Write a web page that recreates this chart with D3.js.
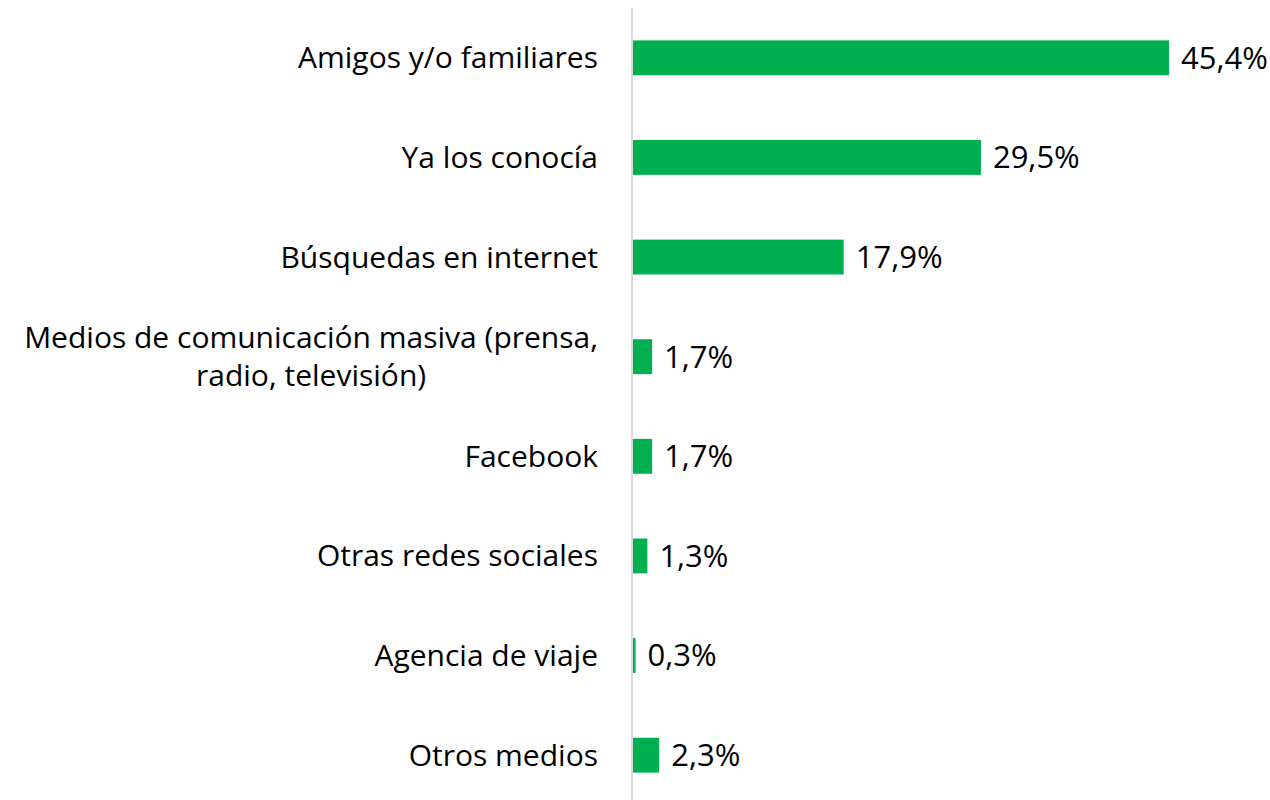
<!DOCTYPE html>
<html lang="es">
<head>
<meta charset="utf-8">
<title>Medios</title>
<script src="https://cdn.jsdelivr.net/npm/d3@7"></script>
<style>
  body { margin: 0; background: #fff; }
  text { font-family: "Open Sans", sans-serif; fill: #000; }
</style>
</head>
<body>
<svg id="chart" width="1270" height="800"></svg>
<script>
// categorias (cada etiqueta puede tener varias lineas)
var categories = [
  ["Amigos y/o familiares"],
  ["Ya los conocía"],
  ["Búsquedas en internet"],
  ["Medios de comunicación masiva (prensa,", "radio, televisión)"],
  ["Facebook"],
  ["Otras redes sociales"],
  ["Agencia de viaje"],
  ["Otros medios"]
];
var values = [45.4, 29.5, 17.9, 1.7, 1.7, 1.3, 0.3, 2.3];
var valueLabels = ["45,4%", "29,5%", "17,9%", "1,7%", "1,7%", "1,3%", "0,3%", "2,3%"];

var svg = d3.select("#chart"),
    x0 = 632,
    fontSize = 30,
    valSize = 31;

var xScale = d3.scaleLinear().domain([0, 45.4]).range([x0, 1169]);
var yScale = d3.scaleBand()
    .domain(d3.range(categories.length))
    .range([8, 805])
    .paddingInner(0.65)
    .paddingOuter(0.325);

/**bars*/
svg.selectAll(".bar")
  .data(values)
  .enter().append("rect")
  .attr("class", "bar")
  .attr("x", x0)
  .attr("y", function(_, i) { return yScale(i); })
  .attr("width", function(d) { return xScale(d) - x0; })
  .attr("height", yScale.bandwidth())
  .attr("fill", "#00b050");

/**vertical axis line*/
svg.append("line")
  .attr("x1", x0).attr("x2", x0)
  .attr("y1", 8).attr("y2", 800)
  .attr("stroke", "#d9d9d9")
  .attr("stroke-width", 2);

/**category labels, wrapped ones are centered on their block*/
var lineH = 38;
categories.forEach(function(lines, i) {
  var cy = yScale(i) + yScale.bandwidth() / 2;
  var t = svg.append("text")
    .attr("font-size", fontSize)
    .attr("text-anchor", lines.length > 1 ? "middle" : "end");
  lines.forEach(function(l, j) {
    t.append("tspan")
      .attr("x", 0)
      .attr("y", cy + (j - (lines.length - 1) / 2) * lineH)
      .attr("dy", "0.35em")
      .text(l);
  });
  if (lines.length > 1) {
    var w = t.node().getBBox().width;
    t.attr("transform", "translate(" + (598 - w / 2) + ",0)");
  } else {
    t.attr("transform", "translate(598,0)");
  }
});

/**value labels*/
svg.selectAll(".val")
  .data(values)
  .enter().append("text")
  .attr("class", "val")
  .attr("font-size", valSize)
  .attr("x", function(d) { return xScale(d) + 12; })
  .attr("y", function(_, i) { return yScale(i) + yScale.bandwidth() / 2; })
  .attr("dy", "0.35em")
  .text(function(_, i) { return valueLabels[i]; });
</script>
</body>
</html>
